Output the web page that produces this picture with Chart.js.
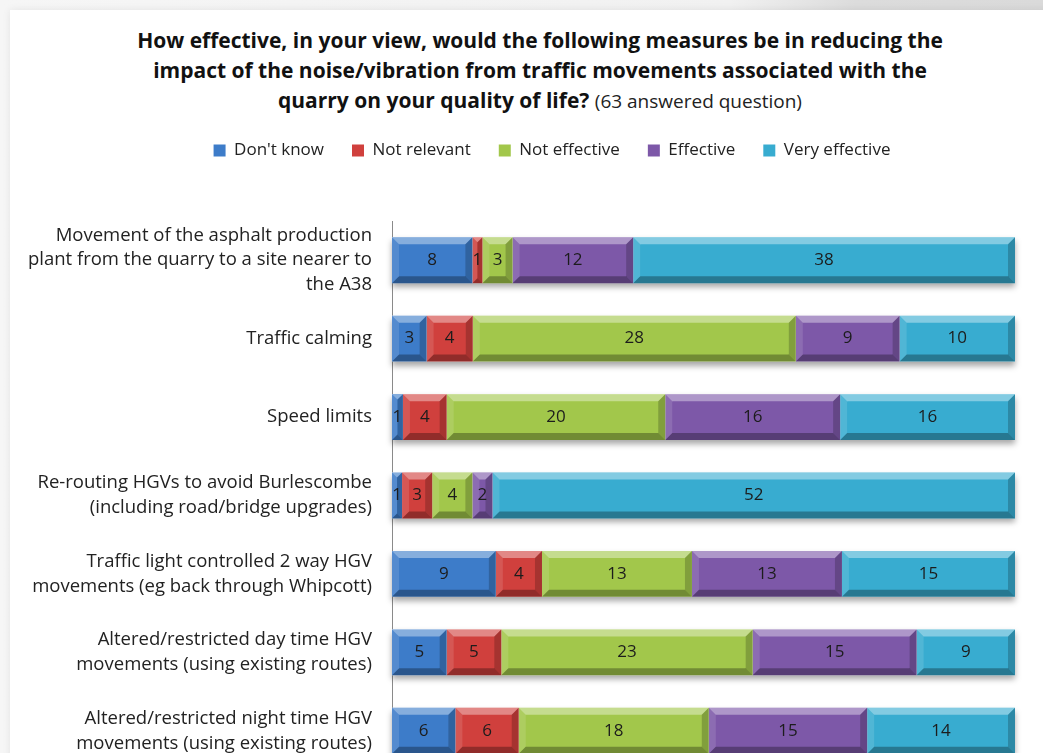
<!DOCTYPE html>
<html>
<head>
<meta charset="utf-8">
<script src="https://cdn.jsdelivr.net/npm/chart.js@4.4.1/dist/chart.umd.min.js"></script>
<style>
  html, body { margin: 0; padding: 0; }
  body {
    width: 1043px; height: 753px; overflow: hidden; position: relative;
    background: linear-gradient(to right, #f6f6f6 0%, #f1f1f1 70%, #dcdcdc 82%, #dadada 100%);
  }
  .card {
    position: absolute; left: 10px; top: 10px; width: 1060px; height: 800px;
    background: #fff; box-shadow: 0 0 8px rgba(0,0,0,0.08);
  }
  .title {
    position: absolute; left: 0; top: 25px; width: 1080px;
    text-align: center; font: bold 21px "Open Sans", sans-serif; line-height: 30px; color: #111;
  }
  .title span { font: normal 19px "Open Sans", sans-serif; color: #222; }
  #chart { position: absolute; left: 0; top: 0; width: 1043px; height: 790px; }
</style>
</head>
<body>
<div class="card"></div>
<div class="title">How effective, in your view, would the following measures be in reducing the<br>impact of the noise/vibration from traffic movements associated with the<br>quarry on your quality of life? <span>(63 answered question)</span></div>
<canvas id="chart" width="1043" height="790"></canvas>
<script>
// answer counts per measure
var categories = [
  ['Movement of the asphalt production', 'plant from the quarry to a site nearer to', 'the A38'],
  'Traffic calming',
  'Speed limits',
  ['Re-routing HGVs to avoid Burlescombe', '(including road/bridge upgrades)'],
  ['Traffic light controlled 2 way HGV', 'movements (eg back through Whipcott)'],
  ['Altered/restricted day time HGV', 'movements (using existing routes)'],
  ['Altered/restricted night time HGV', 'movements (using existing routes)']
];
var dontKnow      = [8, 3, 1, 1, 9, 5, 6];
var notRelevant   = [1, 4, 4, 3, 4, 5, 6];
var notEffective  = [3, 28, 20, 4, 13, 23, 18];
var effective     = [12, 9, 16, 2, 13, 15, 15];
var veryEffective = [38, 10, 16, 52, 15, 9, 14];

var seriesNames = ["Don't know", 'Not relevant', 'Not effective', 'Effective', 'Very effective'];
var series = [dontKnow, notRelevant, notEffective, effective, veryEffective];
var colors = ['#3d7cc9', '#d0403d', '#a2c74b', '#7d58a8', '#38acd0'];

var totals = categories.map(function (c, i) {
  return series.reduce(function (s, arr) { return s + arr[i]; }, 0);
});

var datasets = series.map(function (arr, k) {
  return {
    label: seriesNames[k],
    counts: arr,
    data: arr.map(function (v, i) { return v / totals[i] * 100; }),
    backgroundColor: colors[k],
    borderWidth: 0
  };
});

// extra room under the legend, and legend centred over the bars
var legendSpace = {
  id: 'legendSpace',
  beforeInit: function (chart) {
    var fit = chart.legend.fit;
    chart.legend.fit = function () {
      fit.bind(chart.legend)();
      this.height += 52;
    };
  },
  afterLayout: function (chart) {
    chart.legend.left = 89;
  }
};

// soft shadow under each full bar
var barShadow = {
  id: 'barShadow',
  beforeDatasetsDraw: function (chart) {
    var ctx = chart.ctx;
    var first = chart.getDatasetMeta(0).data;
    var last = chart.getDatasetMeta(chart.data.datasets.length - 1).data;
    ctx.save();
    ctx.shadowColor = 'rgba(0,0,0,0.35)';
    ctx.shadowBlur = 6;
    ctx.shadowOffsetY = 4;
    ctx.fillStyle = '#fff';
    first.forEach(function (el, i) {
      var l = el.base, r = last[i].x, h = el.height;
      ctx.fillRect(l, el.y - h / 2, r - l, h);
    });
    ctx.restore();
  }
};

// bevelled edges and count labels
var bevelLabels = {
  id: 'bevelLabels',
  afterDatasetsDraw: function (chart) {
    var ctx = chart.ctx;
    ctx.save();
    chart.data.datasets.forEach(function (ds, k) {
      chart.getDatasetMeta(k).data.forEach(function (el, i) {
        var L = Math.min(el.base, el.x), R = Math.max(el.base, el.x);
        var T = el.y - el.height / 2, B = el.y + el.height / 2;
        var b = Math.min(7, (R - L) / 2);
        function poly(pts, fill) {
          ctx.beginPath();
          ctx.moveTo(pts[0][0], pts[0][1]);
          for (var p = 1; p < pts.length; p++) ctx.lineTo(pts[p][0], pts[p][1]);
          ctx.closePath();
          ctx.fillStyle = fill;
          ctx.fill();
        }
        poly([[L, T], [R, T], [R - b, T + b], [L + b, T + b]], 'rgba(255,255,255,0.38)');
        poly([[L, B], [R, B], [R - b, B - b], [L + b, B - b]], 'rgba(0,0,0,0.3)');
        poly([[L, T], [L + b, T + b], [L + b, B - b], [L, B]], 'rgba(255,255,255,0.12)');
        poly([[R, T], [R - b, T + b], [R - b, B - b], [R, B]], 'rgba(0,0,0,0.2)');

        ctx.fillStyle = '#1c1c1c';
        ctx.font = '17px "Open Sans", sans-serif';
        ctx.textAlign = 'center';
        ctx.textBaseline = 'middle';
        ctx.fillText(ds.counts[i], (L + R) / 2, el.y);
      });
    });
    ctx.restore();
  }
};

var chart = new Chart(document.getElementById('chart'), {
  type: 'bar',
  data: { labels: categories, datasets: datasets },
  options: {
    indexAxis: 'y',
    responsive: false,
    maintainAspectRatio: false,
    animation: false,
    layout: { padding: { top: 114, left: 0, right: 28, bottom: 20 } },
    plugins: {
      title: { display: false },
      tooltip: { enabled: false },
      legend: {
        position: 'top',
        labels: {
          boxWidth: 12, boxHeight: 12, padding: 28,
          color: '#222',
          font: { family: 'Open Sans', size: 17 }
        }
      }
    },
    datasets: { bar: { categoryPercentage: 1, barPercentage: 0.585 } },
    scales: {
      x: { stacked: true, min: 0, max: 100, display: false },
      y: {
        stacked: true,
        grid: { display: false, drawTicks: false },
        border: { display: true, color: '#8a8a8a', width: 1 },
        ticks: {
          padding: 20,
          color: '#222',
          font: { family: 'Open Sans', size: 18.5, lineHeight: 1.35 }
        },
        afterFit: function (scale) {
          scale.width = 392;
          scale.paddingTop = 0;
          scale.paddingBottom = 0;
        }
      }
    }
  },
  plugins: [legendSpace, barShadow, bevelLabels]
});
</script>
</body>
</html>
